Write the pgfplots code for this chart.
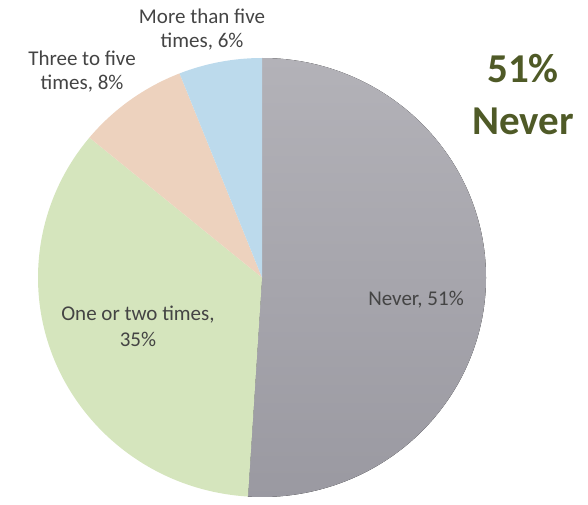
\documentclass[border=0pt]{standalone}
\usepackage{pgfplots}
\pgfplotsset{compat=1.18}
\usepackage{pgfplotstable}
\usepackage{fontspec}
\setmainfont{Carlito}
\definecolor{cNever}{HTML}{A9A8AE}
\definecolor{cNeverTop}{HTML}{B3B2B8}
\definecolor{cNeverBot}{HTML}{9A99A1}
\definecolor{cOne}{HTML}{D5E5BD}
\definecolor{cThree}{HTML}{EDD2BE}
\definecolor{cMore}{HTML}{BCDAEC}
\definecolor{labelgray}{HTML}{444444}
\definecolor{titlecol}{HTML}{4F5A27}
\pgfplotstableread{
idx value color
0 51 cNever
1 35 cOne
2 8 cThree
3 6 cMore
}\piedata
\begin{document}
\begin{tikzpicture}
\useasboundingbox (0,0) rectangle (588pt,504pt);
\begin{axis}[hide axis, scale only axis, width=588pt, height=504pt,
  xmin=0, xmax=588, ymin=0, ymax=504, clip=false, at={(0,0)}, anchor=south west]
\pgfplotsextra{%
  \xdef\startang{90}%
  \foreach \i in {0,...,3}{%
    \pgfplotstablegetelem{\i}{value}\of\piedata \let\val\pgfplotsretval
    \pgfplotstablegetelem{\i}{color}\of\piedata \let\col\pgfplotsretval
    \pgfmathsetmacro\endang{\startang-3.6*\val}%
    \pgfmathsetmacro\sx{262+224*cos(\startang)}%
    \pgfmathsetmacro\sy{226.5+219.5*sin(\startang)}%
    \ifnum\i=0
      \fill[top color=cNeverTop, bottom color=cNeverBot] (axis cs:262,226.5) -- (axis cs:\sx,\sy)
        arc[start angle=\startang, end angle=\endang, x radius=224pt, y radius=219.5pt] -- cycle;
    \else
      \fill[color=\col] (axis cs:262,226.5) -- (axis cs:\sx,\sy)
        arc[start angle=\startang, end angle=\endang, x radius=224pt, y radius=219.5pt] -- cycle;
    \fi
    \xdef\startang{\endang}%
  }%
}
\node[font=\fontsize{21}{24}\selectfont, text=labelgray, align=center] at (axis cs:202,474.5) {More than five\\times, 6\%};
\node[font=\fontsize{21}{24}\selectfont, text=labelgray, align=center] at (axis cs:82,432.5) {Three to five\\times, 8\%};
\node[font=\fontsize{21}{26}\selectfont, text=labelgray, align=center] at (axis cs:138,177.5) {One or two times,\\35\%};
\node[font=\fontsize{21}{24}\selectfont, text=labelgray, align=center] at (axis cs:416,204) {Never, 51\%};
\node[font=\fontsize{41}{50}\selectfont\bfseries, text=titlecol, anchor=base] at (axis cs:523,421) {51\%};
\node[font=\fontsize{41}{50}\selectfont\bfseries, text=titlecol, anchor=base] at (axis cs:523,369) {Never};
\end{axis}
\end{tikzpicture}
\end{document}
